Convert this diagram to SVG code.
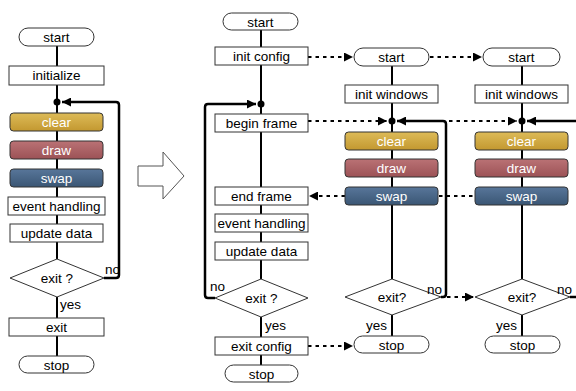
<svg xmlns="http://www.w3.org/2000/svg" width="576" height="391" viewBox="0 0 576 391">
  <style>
    .box { fill: #fff; stroke: #333; stroke-width: 1; }
    .t { font-family: "Liberation Sans", Arial, sans-serif; font-size: 13.5px; text-anchor: middle; fill: #000; }
    .lbl { font-family: "Liberation Sans", Arial, sans-serif; font-size: 13.5px; fill: #000; }
    .tw { font-family: "Liberation Sans", Arial, sans-serif; font-size: 13.5px; text-anchor: middle; fill: #fff; }
    .flow { stroke: #000; stroke-width: 2; fill: none; }
    .loop { stroke: #000; stroke-width: 2.5; fill: none; stroke-linejoin: round; }
    .dash { stroke: #000; stroke-width: 2; fill: none; stroke-dasharray: 3.5 4; }
    .clear { fill: url(#gClear); stroke: #333; stroke-width: 1; }
    .draw { fill: url(#gDraw); stroke: #333; stroke-width: 1; }
    .swap { fill: url(#gSwap); stroke: #333; stroke-width: 1; }
  </style>
  <defs>
    <linearGradient id="gClear" x1="0" y1="0" x2="0" y2="1">
      <stop offset="0" stop-color="#DDBB58"/>
      <stop offset="1" stop-color="#C39830"/>
    </linearGradient>
    <linearGradient id="gDraw" x1="0" y1="0" x2="0" y2="1">
      <stop offset="0" stop-color="#BA7275"/>
      <stop offset="1" stop-color="#9C5256"/>
    </linearGradient>
    <linearGradient id="gSwap" x1="0" y1="0" x2="0" y2="1">
      <stop offset="0" stop-color="#58769A"/>
      <stop offset="1" stop-color="#3A5674"/>
    </linearGradient>
    <marker id="arr" viewBox="0 0 10 10" refX="10" refY="5" markerWidth="12" markerHeight="9" markerUnits="userSpaceOnUse" orient="auto">
      <path d="M0,0 L10,5 L0,10 z" fill="#000"/>
    </marker>
  </defs>

  <!-- connectors -->
  <g id="connectors">
    <!-- left flow -->
    <path class="flow" d="M57,46 V66 M57,85 V113 M57,131 V141 M57,159 V169 M57,187 V197 M57,215 V224 M57,242 V259 M57,297 V318 M57,336 V356"/>
    <path class="loop" d="M104,278 H116 Q119,278 119,275 V105 Q119,102 116,102 H62" marker-end="url(#arr)"/>

    <!-- middle flow -->
    <path class="flow" d="M261,30 V47 M261,65 V115 M261,132 V187 M261,205 V214 M261,232 V242 M261,260 V279 M261,317 V338 M261,355 V365"/>
    <path class="loop" d="M215,298 H208 Q205,298 205,295 V107 Q205,104 208,104 H256" marker-end="url(#arr)"/>

    <!-- third column flow -->
    <path class="flow" d="M392,66 V85 M392,103 V132 M392,150 V159 M392,177 V187 M392,205 V279 M392,315 V336"/>
    <path class="loop" d="M441,297 H443 Q446,297 446,294 V124 Q446,121 443,121 H397" marker-end="url(#arr)"/>

    <!-- fourth column flow -->
    <path class="flow" d="M522,66 V85 M522,103 V132 M522,150 V159 M522,177 V187 M522,205 V279 M522,315 V336"/>
    <path class="loop" d="M570,297 H580 V121 H527" marker-end="url(#arr)"/>

    <!-- synchronisation links -->
    <path class="dash" d="M308,57 H353" marker-end="url(#arr)"/>
    <path class="dash" d="M430,57 H482" marker-end="url(#arr)"/>
    <path class="dash" d="M308,121 H387" marker-end="url(#arr)"/>
    <path class="dash" d="M449,121 H517" marker-end="url(#arr)"/>
    <path class="dash" d="M345,196 H309" marker-end="url(#arr)"/>
    <path class="dash" d="M439,196 H475"/>
    <path class="dash" d="M447,297 H474" marker-end="url(#arr)"/>
    <path class="dash" d="M308,346 H353" marker-end="url(#arr)"/>

    <!-- junction dots -->
    <circle cx="57" cy="102" r="3.5" fill="#000"/>
    <circle cx="261" cy="104" r="3.5" fill="#000"/>
    <circle cx="392" cy="121" r="3.5" fill="#000"/>
    <circle cx="522" cy="121" r="3.5" fill="#000"/>
  </g>

  <!-- transition arrow between the two charts -->
  <polygon points="138,166 163,166 163,152 184,176 163,199 163,186 138,186" fill="#fff" stroke="#555" stroke-width="1"/>

  <!-- left chart -->
  <g id="l-start"><rect class="box" x="19" y="28" width="75" height="18" rx="9"/><text class="t" x="56.5" y="42">start</text></g>
  <g id="l-init"><rect class="box" x="9" y="66" width="95" height="19"/><text class="t" x="56.5" y="80">initialize</text></g>
  <g id="l-clear"><rect class="clear" x="10" y="113" width="93" height="18" rx="3.5"/><text class="tw" x="56.5" y="127">clear</text></g>
  <g id="l-draw"><rect class="draw" x="10" y="141" width="93" height="18" rx="3.5"/><text class="tw" x="56.5" y="155">draw</text></g>
  <g id="l-swap"><rect class="swap" x="10" y="169" width="93" height="18" rx="3.5"/><text class="tw" x="56.5" y="183">swap</text></g>
  <g id="l-event"><rect class="box" x="8" y="197" width="97" height="18"/><text class="t" x="56.5" y="211">event handling</text></g>
  <g id="l-update"><rect class="box" x="10" y="224" width="93" height="18"/><text class="t" x="56.5" y="238">update data</text></g>
  <g id="l-exitq"><polygon class="box" points="10,278 57,259 104,278 57,297"/><text class="t" x="57" y="283">exit ?</text></g>
  <text class="lbl" x="105" y="274">no</text>
  <text class="lbl" x="60" y="309">yes</text>
  <g id="l-exit"><rect class="box" x="9" y="318" width="95" height="18"/><text class="t" x="56.5" y="332">exit</text></g>
  <g id="l-stop"><rect class="box" x="19" y="356" width="75" height="17" rx="8.5"/><text class="t" x="56.5" y="369.5">stop</text></g>

  <!-- middle chart -->
  <g id="m-start"><rect class="box" x="223" y="13" width="75" height="17" rx="8.5"/><text class="t" x="260.5" y="26.5">start</text></g>
  <g id="m-initcfg"><rect class="box" x="215" y="47" width="93" height="18"/><text class="t" x="261.5" y="61">init config</text></g>
  <g id="m-begin"><rect class="box" x="215" y="114" width="93" height="18"/><text class="t" x="261.5" y="128">begin frame</text></g>
  <g id="m-end"><rect class="box" x="215" y="187" width="93" height="18"/><text class="t" x="261.5" y="201">end frame</text></g>
  <g id="m-event"><rect class="box" x="215" y="214" width="93" height="18"/><text class="t" x="261.5" y="228">event handling</text></g>
  <g id="m-update"><rect class="box" x="215" y="242" width="93" height="18"/><text class="t" x="261.5" y="256">update data</text></g>
  <g id="m-exitq"><polygon class="box" points="215,298 261,279 308,298 261,317"/><text class="t" x="261.5" y="303">exit ?</text></g>
  <text class="lbl" x="210" y="291">no</text>
  <text class="lbl" x="265" y="330">yes</text>
  <g id="m-exitcfg"><rect class="box" x="215" y="337" width="93" height="18"/><text class="t" x="261.5" y="351">exit config</text></g>
  <g id="m-stop"><rect class="box" x="225" y="365" width="73" height="17" rx="8.5"/><text class="t" x="261.5" y="378.5">stop</text></g>

  <!-- first window chart -->
  <g id="w1-start"><rect class="box" x="354" y="48" width="75" height="18" rx="9"/><text class="t" x="391.5" y="62">start</text></g>
  <g id="w1-init"><rect class="box" x="345" y="85" width="93" height="18"/><text class="t" x="391.5" y="99">init windows</text></g>
  <g id="w1-clear"><rect class="clear" x="345" y="132" width="93" height="18" rx="3.5"/><text class="tw" x="391.5" y="146">clear</text></g>
  <g id="w1-draw"><rect class="draw" x="345" y="159" width="93" height="18" rx="3.5"/><text class="tw" x="391.5" y="173">draw</text></g>
  <g id="w1-swap"><rect class="swap" x="345" y="187" width="93" height="18" rx="3.5"/><text class="tw" x="391.5" y="201">swap</text></g>
  <g id="w1-exitq"><polygon class="box" points="345,297 392,279 441,297 392,315"/><text class="t" x="392" y="302">exit?</text></g>
  <text class="lbl" x="427" y="294">no</text>
  <text class="lbl" x="366" y="330">yes</text>
  <g id="w1-stop"><rect class="box" x="354" y="336" width="75" height="17" rx="8.5"/><text class="t" x="391.5" y="349.5">stop</text></g>

  <!-- second window chart -->
  <g id="w2-start"><rect class="box" x="483" y="48" width="77" height="18" rx="9"/><text class="t" x="521.5" y="62">start</text></g>
  <g id="w2-init"><rect class="box" x="475" y="85" width="93" height="18"/><text class="t" x="521.5" y="99">init windows</text></g>
  <g id="w2-clear"><rect class="clear" x="475" y="132" width="93" height="18" rx="3.5"/><text class="tw" x="521.5" y="146">clear</text></g>
  <g id="w2-draw"><rect class="draw" x="475" y="159" width="93" height="18" rx="3.5"/><text class="tw" x="521.5" y="173">draw</text></g>
  <g id="w2-swap"><rect class="swap" x="475" y="187" width="93" height="18" rx="3.5"/><text class="tw" x="521.5" y="201">swap</text></g>
  <g id="w2-exitq"><polygon class="box" points="475,297 522,279 570,297 522,315"/><text class="t" x="522" y="302">exit?</text></g>
  <text class="lbl" x="557" y="294">no</text>
  <text class="lbl" x="496" y="330">yes</text>
  <g id="w2-stop"><rect class="box" x="485" y="336" width="75" height="17" rx="8.5"/><text class="t" x="522.5" y="349.5">stop</text></g>
</svg>
